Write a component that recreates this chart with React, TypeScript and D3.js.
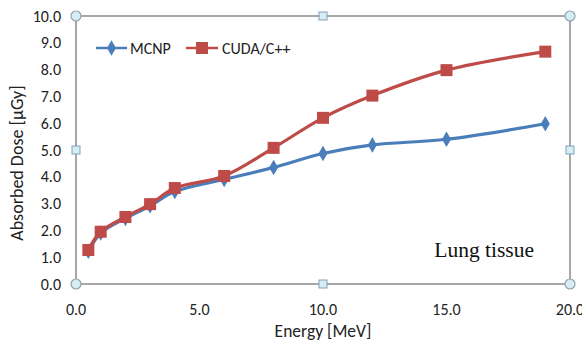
import React from "react"
import * as d3 from "d3"

// Data
const energies = [0.5, 1, 2, 3, 4, 6, 8, 10, 12, 15, 19]
const mcnp = [1.22, 1.9, 2.45, 2.92, 3.45, 3.9, 4.35, 4.87, 5.19, 5.4, 5.98]
const cuda = [1.27, 1.95, 2.5, 2.98, 3.58, 4.03, 5.08, 6.2, 7.03, 7.98, 8.67]
const xTicks = [0, 5, 10, 15, 20]
const yTicks = [0, 1, 2, 3, 4, 5, 6, 7, 8, 9, 10]
const seriesNames = ["MCNP", "CUDA/C++"]

const BLUE = "#4a7ebb"
const RED = "#be4b48"
const AXIS = "#8a8a8a"
const FONT = "Carlito, Calibri, 'Open Sans', sans-serif"

export default function App() {
  const totalW = 582
  const totalH = 347
  const margin = { top: 16, right: 12, bottom: 63, left: 76 }
  const w = totalW - margin.left - margin.right
  const h = totalH - margin.top - margin.bottom

  // Scales
  const x = d3.scaleLinear().domain([0, 20]).range([0, w])
  const y = d3.scaleLinear().domain([0, 10]).range([h, 0])

  const line = d3
    .line<number>()
    .x((d, i) => x(energies[i]))
    .y(d => y(d))
    .curve(d3.curveCatmullRom.alpha(0.5))

  const diamond = d3.symbol().type(d3.symbolDiamond).size(70)()

  const handle = (cx: number, cy: number, round: boolean, key: string) =>
    round ? (
      <circle key={key} cx={cx} cy={cy} r={5} fill="#d6edf3" stroke="#8fa3ab" strokeWidth={1.2} />
    ) : (
      <rect key={key} x={cx - 4} y={cy - 4} width={8} height={8} fill="#d6edf3" stroke="#7fa0bd" strokeWidth={1} />
    )

  return (
    <svg width={totalW} height={totalH} style={{ position: "absolute", left: 0, top: 0 }}>
      <rect width={totalW} height={totalH} fill="#fff" />
      <g transform={`translate(${margin.left},${margin.top})`}>
        {/* plot border */}
        <rect x={0} y={0} width={w} height={h} fill="none" stroke={AXIS} strokeWidth={1.5} />

        {/* y tick labels */}
        {yTicks.map(t => (
          <text key={`y${t}`} x={-15} y={y(t)} dy="0.35em" textAnchor="end" fontFamily={FONT} fontSize={16} fill="#222">
            {t.toFixed(1)}
          </text>
        ))}
        {/* x tick labels */}
        {xTicks.map(t => (
          <text key={`x${t}`} x={x(t)} y={h + 31} textAnchor="middle" fontFamily={FONT} fontSize={16} fill="#222">
            {t.toFixed(1)}
          </text>
        ))}

        {/* series */}
        <path d={line(mcnp) || ""} fill="none" stroke={BLUE} strokeWidth={3.2} />
        <path d={line(cuda) || ""} fill="none" stroke={RED} strokeWidth={3.2} />
        {mcnp.map((d, i) => (
          <path key={`m${i}`} d={diamond || ""} transform={`translate(${x(energies[i])},${y(d)})`} fill={BLUE} />
        ))}
        {cuda.map((d, i) => (
          <rect key={`c${i}`} x={x(energies[i]) - 6} y={y(d) - 6} width={12} height={12} fill={RED} />
        ))}

        {/* legend */}
        <g transform="translate(20,32)">
          <line x1={0} x2={31} y1={0} y2={0} stroke={BLUE} strokeWidth={2.5} />
          <path d={diamond || ""} transform="translate(15.5,0)" fill={BLUE} />
          <text x={34} y={0} dy="0.35em" fontFamily={FONT} fontSize={16} fill="#222">{seriesNames[0]}</text>
          <line x1={90} x2={122} y1={0} y2={0} stroke={RED} strokeWidth={2.5} />
          <rect x={100} y={-6} width={12} height={12} fill={RED} />
          <text x={126} y={0} dy="0.35em" fontFamily={FONT} fontSize={16} fill="#222">{seriesNames[1]}</text>
        </g>

        <text x={w - 36} y={h - 27} textAnchor="end" fontFamily="'Liberation Serif', 'Times New Roman', serif" fontSize={21.5} fill="#111">
          Lung tissue
        </text>

        {/* selection handles */}
        {handle(0, 0, true, "h1")}
        {handle(w, 0, true, "h2")}
        {handle(0, h, true, "h3")}
        {handle(w, h, true, "h4")}
        {handle(w / 2, 0, false, "h5")}
        {handle(w / 2, h, false, "h6")}
        {handle(0, h / 2, false, "h7")}
        {handle(w, h / 2, false, "h8")}
      </g>

      {/* axis titles */}
      <text x={margin.left + w / 2} y={totalH - 10} textAnchor="middle" fontFamily={FONT} fontSize={17.5} fill="#222">
        Energy [MeV]
      </text>
      <text
        transform={`translate(23,${margin.top + h / 2 + 13}) rotate(-90)`}
        textAnchor="middle"
        fontFamily={FONT}
        fontSize={18}
        fill="#222"
      >
        Absorbed Dose [μGy]
      </text>
    </svg>
  )
}
